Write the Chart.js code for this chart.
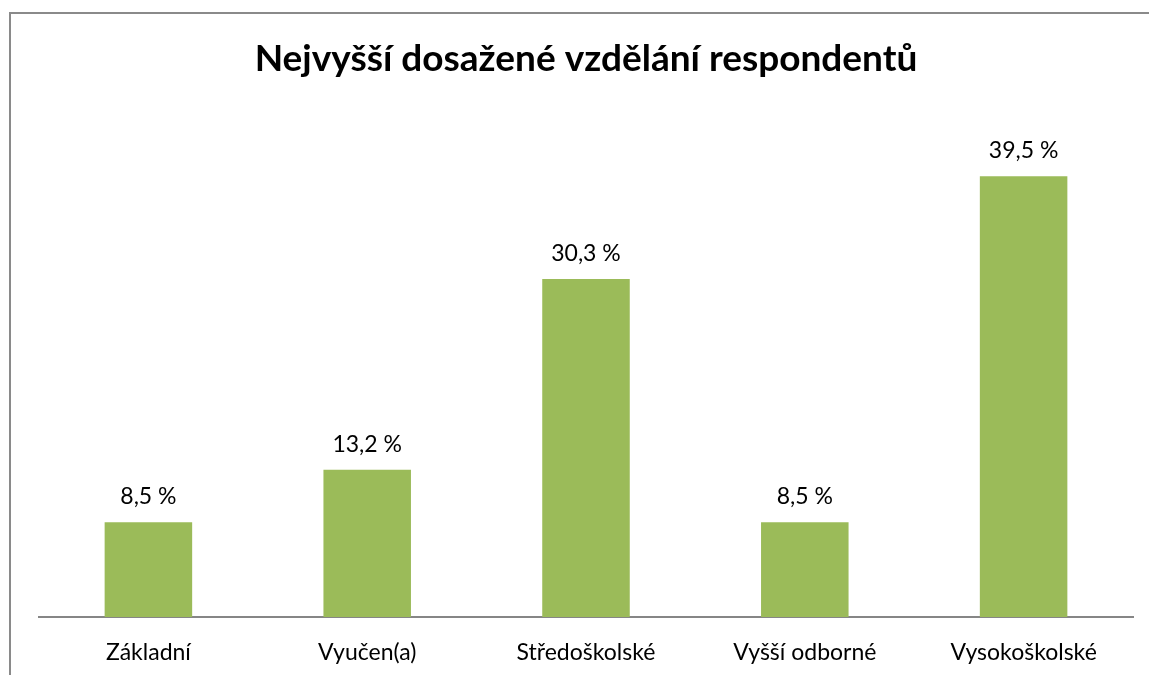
<!DOCTYPE html>
<html lang="cs">
<head>
    <meta charset="UTF-8">
    <title>Nejvyšší dosažené vzdělání respondentů</title>
    <style>
        body { margin: 0; background: #fff; }
        #wrap { position: relative; width: 1149px; height: 675px; overflow: hidden; }
        #frame { position: absolute; left: 9px; top: 12px; width: 1200px; height: 700px;
                 border-left: 2px solid #8a8a8a; border-top: 2px solid #8a8a8a; }
        canvas { position: absolute; left: 0; top: 0; }
    </style>
</head>
<body>
<div id="wrap">
    <div id="frame"></div>
    <canvas id="chart" width="1149" height="675"></canvas>
</div>

<script src="https://cdn.jsdelivr.net/npm/chart.js@4.4.0/dist/chart.umd.min.js"></script>
<script>
    const kategorie = ["Základní", "Vyučen(a)", "Středoškolské", "Vyšší odborné", "Vysokoškolské"];
    const podily = [8.5, 13.2, 30.3, 8.5, 39.5];
    const popisky = ["8,5 %", "13,2 %", "30,3 %", "8,5 %", "39,5 %"];

    // popisky hodnot nad sloupci
    const hodnotyPlugin = {
        id: 'hodnoty',
        afterDatasetsDraw(chart) {
            const ctx = chart.ctx;
            const meta = chart.getDatasetMeta(0);
            ctx.save();
            ctx.font = '23px Lato';
            ctx.fillStyle = '#000';
            ctx.textAlign = 'center';
            ctx.textBaseline = 'alphabetic';
            meta.data.forEach((bar, i) => {
                ctx.fillText(popisky[i], bar.x, bar.y - 18);
            });
            ctx.restore();
        }
    };

    const ctx = document.getElementById("chart").getContext("2d");
    const chart = new Chart(ctx, {
        type: 'bar',
        data: {
            labels: kategorie,
            datasets: [{
                data: podily,
                backgroundColor: '#9bbb59',
                borderWidth: 0,
                categoryPercentage: 1,
                barPercentage: 0.4
            }]
        },
        options: {
            responsive: false,
            animation: false,
            layout: { padding: { left: 39, right: 16, top: 0, bottom: 0 } },
            plugins: {
                legend: { display: false },
                tooltip: { enabled: false },
                title: {
                    display: true,
                    text: 'Nejvyšší dosažené vzdělání respondentů',
                    color: '#000',
                    font: { family: 'Lato', size: 37, weight: 'bold', lineHeight: 1.2 },
                    padding: { top: 37, bottom: 33.6 }
                }
            },
            scales: {
                x: {
                    grid: { display: false },
                    border: { display: true, color: '#868686', width: 2 },
                    ticks: { color: '#000', font: { family: 'Lato', size: 23 }, padding: 14, maxRotation: 0 },
                    afterFit(scale) { scale.height = 58; }
                },
                y: {
                    display: false,
                    min: 0,
                    max: 45
                }
            }
        },
        plugins: [hodnotyPlugin]
    });
</script>
</body>
</html>
